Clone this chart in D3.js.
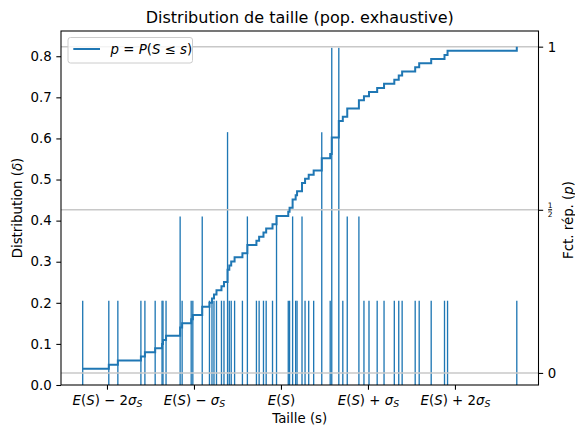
<!DOCTYPE html>
<html>
<head>
<meta charset="utf-8">
<script src="https://cdn.jsdelivr.net/npm/d3@7"></script>
<style>
  body { margin: 0; background: #fff; }
  text { font-family: "DejaVu Sans", sans-serif; fill: #000; }
</style>
</head>
<body>
<div id="chart"></div>
<script>
/// Data: sizes in units of sigma around E(S), and counts ///
var sizeSigma = [
  -2.279, -1.979, -1.875, -1.610, -1.564, -1.446, -1.367, -1.356, -1.321, -1.159,
  -1.136, -1.032, -1.013, -0.905, -0.822, -0.793, -0.770, -0.741, -0.684, -0.655,
  -0.614, -0.594, -0.572, -0.533, -0.443, -0.386, -0.282, -0.251, -0.201, -0.170,
  -0.097, -0.051, 0.084, 0.099, 0.134, 0.169, 0.185, 0.242, 0.277, 0.319,
  0.376, 0.469, 0.566, 0.584, 0.665, 0.711, 0.762, 0.896, 0.954, 1.012,
  1.106, 1.185, 1.303, 1.354, 1.393, 1.543, 1.589, 1.727, 1.880, 1.915,
  2.711
];
var counts = [
  1, 1, 1, 1, 1, 1, 1, 1, 1, 2,
  1, 1, 1, 2, 1, 1, 1, 1, 1, 1,
  3, 1, 1, 1, 1, 2, 1, 1, 1, 1,
  1, 2, 1, 1, 2, 1, 1, 2, 1, 1,
  1, 3, 1, 4, 4, 1, 2, 2, 1, 1,
  1, 1, 1, 1, 1, 1, 1, 1, 1, 1,
  1
];
var deltaUnit = 0.2051;   // height of one count on the left axis

var leftTicks = [0, 0.1, 0.2, 0.3, 0.4, 0.5, 0.6, 0.7, 0.8];
var xTickSigma = [-2, -1, 0, 1, 2];
var xTickLabels = ["$E(S) − 2σ_S$", "$E(S) − σ_S$", "$E(S)$", "$E(S) + σ_S$", "$E(S) + 2σ_S$"];
var pLines = [0, 0.5, 1];

/// SVG area ///
var svgWidth = 575;
var svgHeight = 426;
var margin = { top: 31, right: 36.5, bottom: 41, left: 61 };
var width = svgWidth - margin.left - margin.right;
var height = svgHeight - margin.top - margin.bottom;
var blue = "#1f77b4";
var fs = 13.33;

var svg = d3.select("#chart").append("svg")
    .attr("width", svgWidth)
    .attr("height", svgHeight);

var g = svg.append("g")
    .attr("transform", `translate(${margin.left}, ${margin.top})`);

// writes "plain $math$" strings: letters inside $..$ are italic, _X is a subscript
function mathText(sel, str) {
  var inMath = false;
  for (var i = 0; i < str.length; i++) {
    var c = str[i];
    if (c === "$") { inMath = !inMath; continue; }
    if (inMath && c === "_") {
      sel.append("tspan").attr("font-style", "italic")
        .attr("font-size", "0.7em").attr("dy", "0.3em").text(str[++i]);
      continue;
    }
    var t = sel.append("tspan").text(c);
    if (inMath && /[A-Za-zα-ω]/.test(c)) t.attr("font-style", "italic");
  }
  return sel;
}

/// Scales ///
var ext = d3.extent(sizeSigma);
var pad = (ext[1] - ext[0]) * 0.05;
var x = d3.scaleLinear().domain([ext[0] - pad, ext[1] + pad]).range([0, width]);

var maxDelta = d3.max(counts) * deltaUnit;
var y = d3.scaleLinear().domain([0, maxDelta * 1.05]).range([height, 0]);
var yP = d3.scaleLinear().domain([-0.037, 1.048]).range([height, 0]);

/// Stems (distribution) ///
g.append("g").selectAll("line").data(sizeSigma).enter().append("line")
    .attr("x1", d => x(d)).attr("x2", d => x(d))
    .attr("y1", y(0))
    .attr("y2", (d, i) => y(counts[i] * deltaUnit))
    .attr("stroke", blue).attr("stroke-width", 1.33);

/// Reference lines on the p axis ///
g.append("g").selectAll("line").data(pLines).enter().append("line")
    .attr("x1", 0).attr("x2", width)
    .attr("y1", d => yP(d)).attr("y2", d => yP(d))
    .attr("stroke", "#c8c8c8").attr("stroke-width", 1.5);

/// Cumulative distribution ///
var total = d3.sum(counts);
var cum = d3.cumsum(counts);
var cdf = sizeSigma.map((s, i) => [s, cum[i] / total]);
g.append("path").datum(cdf)
    .attr("fill", "none").attr("stroke", blue).attr("stroke-width", 2)
    .attr("d", d3.line().x(d => x(d[0])).y(d => yP(d[1])).curve(d3.curveStepAfter));

/// Left axis ///
var yAxis = g.append("g").call(d3.axisLeft(y).tickValues(leftTicks)
    .tickFormat(d3.format(".1f")).tickSize(4.67).tickPadding(4.67));
yAxis.selectAll("text").attr("font-size", fs).attr("font-family", "DejaVu Sans");

/// Bottom axis ///
var xAxis = g.append("g").attr("transform", `translate(0, ${height})`)
    .call(d3.axisBottom(x).tickValues(xTickSigma).tickFormat("").tickSize(4.67));
xAxis.selectAll(".tick").append("text")
    .attr("y", 19.5).attr("text-anchor", "middle").attr("font-size", fs)
    .each(function (d, i) { mathText(d3.select(this), xTickLabels[i]); });

/// Right axis ///
var rAxis = g.append("g").attr("transform", `translate(${width}, 0)`)
    .call(d3.axisRight(yP).tickValues(pLines).tickFormat("").tickSize(4.67));
rAxis.selectAll(".tick").filter(d => d !== 0.5).append("text")
    .attr("x", 9.3).attr("dy", "0.36em").attr("font-size", fs)
    .text(d => d3.format("d")(d));
var half = rAxis.selectAll(".tick").filter(d => d === 0.5);
half.append("text").attr("x", 11.6).attr("y", -2).attr("font-size", 7.5)
    .attr("text-anchor", "middle").text("1");
half.append("line").attr("x1", 9.6).attr("x2", 13.6).attr("y1", -0.5).attr("y2", -0.5)
    .attr("stroke", "#000").attr("stroke-width", 0.6);
half.append("text").attr("x", 11.6).attr("y", 6.3).attr("font-size", 7.5)
    .attr("text-anchor", "middle").text("2");

[yAxis, xAxis, rAxis].forEach(function (a) {
  a.select(".domain").remove();
  a.selectAll(".tick line").attr("stroke", "#000").attr("stroke-width", 1.07);
});

/// Frame ///
g.append("rect").attr("width", width).attr("height", height)
    .attr("fill", "none").attr("stroke", "#000").attr("stroke-width", 1.07);

/// Legend ///
var leg = g.append("g").attr("transform", "translate(7, 6.5)");
leg.append("rect").attr("width", 124.5).attr("height", 25.5).attr("rx", 2.5)
    .attr("fill", "#fff").attr("fill-opacity", 0.8)
    .attr("stroke", "#cccccc").attr("stroke-width", 1);
leg.append("line").attr("x1", 5.3).attr("x2", 32).attr("y1", 11.5).attr("y2", 11.5)
    .attr("stroke", blue).attr("stroke-width", 2);
mathText(leg.append("text").attr("x", 42.5).attr("y", 16.5).attr("font-size", fs),
    "$p = P(S ≤ s)$");

/// Labels ///
svg.append("text")
    .attr("x", margin.left + width / 2).attr("y", 23)
    .attr("text-anchor", "middle").attr("font-size", 16)
    .text("Distribution de taille (pop. exhaustive)");

svg.append("text")
    .attr("x", margin.left + width / 2).attr("y", 423)
    .attr("text-anchor", "middle").attr("font-size", fs)
    .text("Taille (s)");

mathText(svg.append("text")
    .attr("transform", `translate(22, ${margin.top + height / 2}) rotate(-90)`)
    .attr("text-anchor", "middle").attr("font-size", fs), "Distribution ($δ$)");

mathText(svg.append("text")
    .attr("transform", `translate(573, ${margin.top + height / 2 + 12}) rotate(-90)`)
    .attr("text-anchor", "middle").attr("font-size", fs), "Fct. rép. ($p$)");
</script>
</body>
</html>
